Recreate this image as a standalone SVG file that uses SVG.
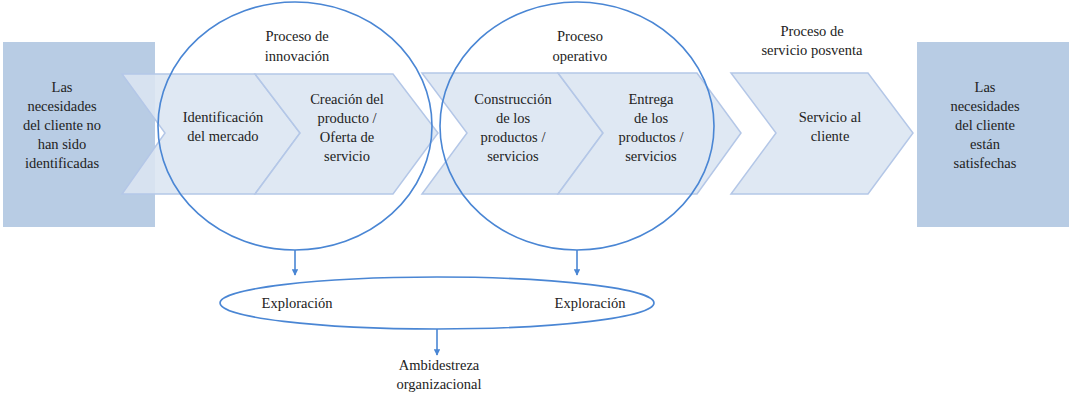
<svg xmlns="http://www.w3.org/2000/svg" width="1070" height="411" viewBox="0 0 1070 411">
<style>
text{font-family:"Liberation Serif",serif;font-size:14.5px;fill:#222;text-anchor:middle}
.box{fill:#b8cce4}
.chev{fill:#dbe5f1;fill-opacity:0.88;stroke:#b4c7e7;stroke-width:1.5}
.ring{fill:none;stroke:#4a86d4;stroke-width:1.6}
.ar{stroke:#4a86d4;stroke-width:1.6;fill:none}
</style>
<defs><marker id="m" viewBox="0 0 10 10" refX="9" refY="5" markerWidth="4" markerHeight="4" orient="auto"><path d="M0 0L10 5L0 10z" fill="#4a86d4"/></marker></defs>
<rect width="1070" height="411" fill="#fff"/>
<g id="start"><rect class="box" x="3" y="42" width="152" height="185"/>
<text x="62" y="92">Las</text><text x="62" y="111">necesidades</text><text x="62" y="130">del  cliente no</text><text x="62" y="149">han sido</text><text x="62" y="168">identificadas</text></g>
<g id="end"><rect class="box" x="917" y="42" width="152" height="185"/>
<text x="985" y="92">Las</text><text x="985" y="111">necesidades</text><text x="985" y="130">del  cliente</text><text x="985" y="149">están</text><text x="985" y="168">satisfechas</text></g>
<g id="c1"><polygon class="chev" points="122,74 255,74 300,133 255,194 122,194 165,133"/><text x="223" y="122">Identificación</text><text x="223" y="141">del mercado</text></g>
<g id="c2"><polygon class="chev" points="255,74 393,74 438,133 393,194 255,194 300,133"/><text x="347" y="104">Creación del</text><text x="347" y="123">producto /</text><text x="347" y="142">Oferta de</text><text x="347" y="161">servicio</text></g>
<g id="c3"><polygon class="chev" points="422,73 558,73 603,133 558,194 422,194 467,133"/><text x="513" y="104">Construcción</text><text x="513" y="123">de los</text><text x="513" y="142">productos /</text><text x="513" y="161">servicios</text></g>
<g id="c4"><polygon class="chev" points="558,73 697,73 741,133 697,194 558,194 603,133"/><text x="651" y="104">Entrega</text><text x="651" y="123">de los</text><text x="651" y="142">productos /</text><text x="651" y="161">servicios</text></g>
<g id="c5"><polygon class="chev" points="731,73 868,73 913,133 868,194 731,194 776,133"/><text x="830" y="122">Servicio al</text><text x="830" y="141">cliente</text></g>
<g id="p1"><ellipse class="ring" cx="295" cy="126" rx="137" ry="124"/><text x="297" y="41">Proceso de</text><text x="297" y="61">innovación</text></g>
<g id="p2"><ellipse class="ring" cx="577" cy="126" rx="137" ry="124"/><text x="580" y="41">Proceso</text><text x="580" y="61">operativo</text></g>
<g id="posventa"><text x="812" y="36">Proceso de</text><text x="812" y="55">servicio posventa</text></g>
<g id="explor"><ellipse class="ring" cx="437" cy="303" rx="217" ry="26"/><text x="297" y="308">Exploración</text><text x="590" y="308">Exploración</text></g>
<g id="amb"><text x="439" y="370">Ambidestreza</text><text x="439" y="389">organizacional</text></g>
<g id="connectors">
<line class="ar" x1="295" y1="250" x2="295" y2="275" marker-end="url(#m)"/>
<line class="ar" x1="577" y1="250" x2="577" y2="275" marker-end="url(#m)"/>
<line class="ar" x1="437" y1="329" x2="437" y2="355" marker-end="url(#m)"/>
</g>
</svg>
